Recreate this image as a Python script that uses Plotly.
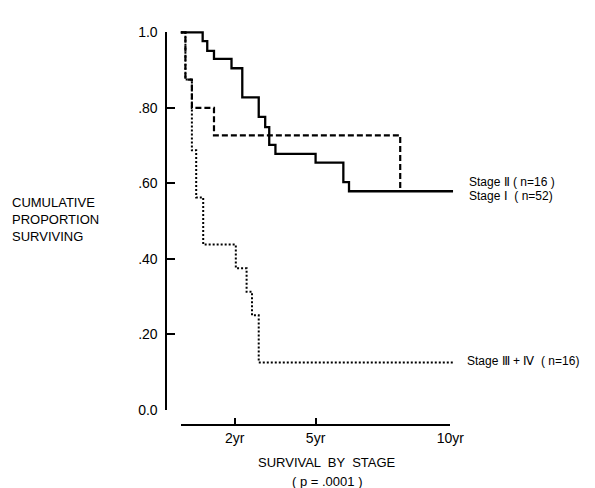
import plotly.graph_objects as go

# ---- data ----
stage1_years = [0, 0.81, 0.98, 1.23, 1.88, 2.28, 2.89, 3.13, 3.28, 3.51, 5.0, 6.03, 6.24, 10.1]
stage1_surv = [1.0, 0.977, 0.951, 0.930, 0.905, 0.828, 0.776, 0.749, 0.702, 0.678, 0.655, 0.603, 0.579, 0.579]

stage2_years = [0, 0.17, 0.41, 1.23, 8.14]
stage2_surv = [1.0, 0.875, 0.80, 0.727, 0.579]

stage34_years = [0, 0.17, 0.41, 0.57, 0.83, 2.04, 2.44, 2.64, 2.89, 10.1]
stage34_surv = [1.0, 0.875, 0.6875, 0.5625, 0.4375, 0.375, 0.3125, 0.25, 0.125, 0.125]

y_tick_vals = [0, 0.2, 0.4, 0.6, 0.8, 1.0]
y_tick_text = ["0.0", ".20", ".40", ".60", ".80", "1.0"]
x_tick_vals = [0, 2, 5, 10]
x_tick_text = ["", "2yr", "5yr", "10yr"]

labels = ["Stage Ⅱ ( n=16 )", "Stage Ⅰ  ( n=52)", "Stage Ⅲ + Ⅳ  ( n=16)"]

W, H = 595, 488
FONT = "Liberation Sans, Arial, sans-serif"

fig = go.Figure()
fig.add_trace(go.Scatter(x=stage1_years, y=stage1_surv, mode="lines", line_shape="hv",
                         line=dict(color="black", width=2.3), showlegend=False))
fig.add_trace(go.Scatter(x=stage2_years, y=stage2_surv, mode="lines", line_shape="hv",
                         line=dict(color="black", width=2.2, dash="6px,3px"), showlegend=False))
fig.add_trace(go.Scatter(x=stage34_years, y=stage34_surv, mode="lines", line_shape="hv",
                         line=dict(color="black", width=2, dash="2px,2px"), showlegend=False))
# invisible trace to create the visible-axes subplot
fig.add_trace(go.Scatter(x=[0, 10], y=[0, 1], mode="markers", marker=dict(opacity=0),
                         xaxis="x2", yaxis="y2", showlegend=False, hoverinfo="skip"))

# main (hidden) axes: 27.6 px per year, 390 px per unit of survival
fig.update_layout(
    width=W, height=H,
    margin=dict(l=0, r=0, t=0, b=0),
    paper_bgcolor="white", plot_bgcolor="rgba(0,0,0,0)",
    font=dict(family=FONT, color="black", size=13),
    xaxis=dict(range=[-0.2, 10.2], domain=[171.48 / W, 458.52 / W], visible=False),
    yaxis=dict(range=[-0.04, 1.04], domain=[(H - 422.6) / H, (H - 1.4) / H], visible=False),
    xaxis2=dict(range=[0, 10], domain=[177 / W, 453 / W], anchor="free", position=(H - 423) / H,
                showline=True, linecolor="black", linewidth=1.5,
                ticks="inside", ticklen=6, tickwidth=1.5, tickcolor="black",
                tickvals=x_tick_vals, ticktext=x_tick_text, showgrid=False, zeroline=False,
                tickfont=dict(family=FONT, size=14, color="black")),
    yaxis2=dict(range=[0, 1], domain=[(H - 407) / H, (H - 17) / H], anchor="free", position=162 / W,
                showline=True, linecolor="black", linewidth=1.5,
                ticks="inside", ticklen=8, tickwidth=1.5, tickcolor="black",
                ticklabelstandoff=5,
                tickvals=y_tick_vals, ticktext=y_tick_text, showgrid=False, zeroline=False,
                tickfont=dict(family=FONT, size=14, color="black")),
)

ann = []
ann.append(dict(text=labels[0], x=470 / W, y=(H - 171.5) / H))
ann.append(dict(text=labels[1], x=470 / W, y=(H - 186) / H))
ann.append(dict(text=labels[2], x=468 / W, y=(H - 357) / H))
for a in ann:
    a.update(xref="paper", yref="paper", xanchor="left", yanchor="middle", showarrow=False,
             font=dict(family=FONT, size=12, color="black"))
ann.append(dict(text="CUMULATIVE<br>PROPORTION<br>SURVIVING", x=49 / W, y=(H - 210) / H,
                xref="paper", yref="paper", xanchor="center", yanchor="middle", showarrow=False,
                align="left", font=dict(family=FONT, size=13, color="black")))
ann.append(dict(text="SURVIVAL  BY  STAGE", x=327 / W, y=(H - 462) / H,
                xref="paper", yref="paper", xanchor="center", yanchor="middle", showarrow=False,
                font=dict(family=FONT, size=13, color="black")))
ann.append(dict(text="( p = .0001 )", x=327 / W, y=(H - 481) / H,
                xref="paper", yref="paper", xanchor="center", yanchor="middle", showarrow=False,
                font=dict(family=FONT, size=13, color="black")))
fig.update_layout(annotations=ann)

fig.write_html("out.html")
